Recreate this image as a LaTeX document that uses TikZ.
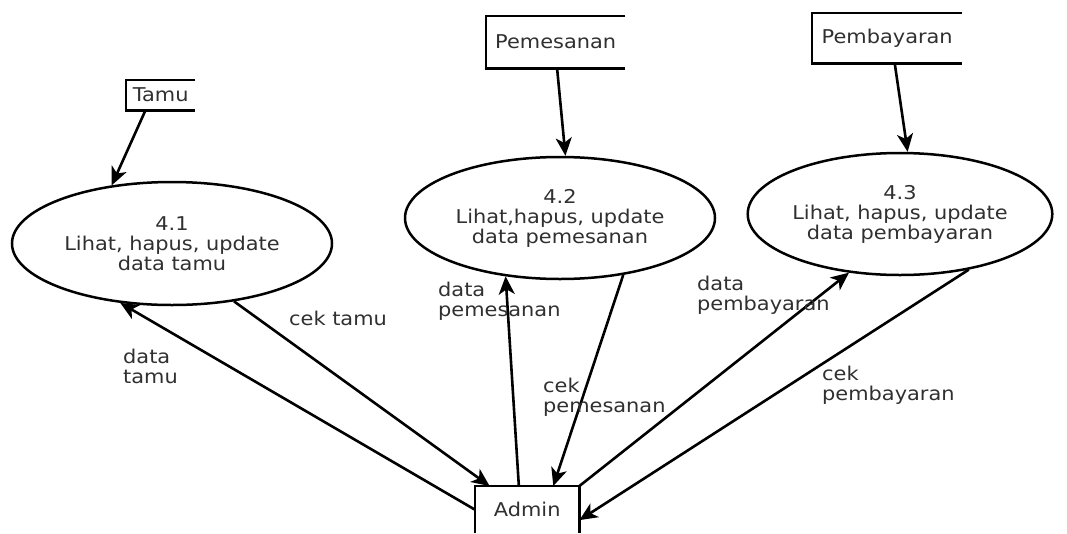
\documentclass[tikz,border=0pt]{standalone}
\usepackage{fontspec}
\setmainfont{DejaVu Sans}[FakeStretch=1.1]
\usetikzlibrary{arrows.meta,calc,shapes.geometric}
\definecolor{txt}{HTML}{303030}
\tikzset{
  every node/.style={font=\fontsize{19}{20}\selectfont, text=txt},
  proc/.style={ellipse, draw=black, line width=2.5pt, inner sep=0pt, align=center},
  store/.style={rectangle, inner sep=0pt, anchor=north west},
  flow/.style={line width=2.6pt, draw=black, -{Stealth[length=18pt,width=16pt,inset=5pt]}},
  lbl/.style={align=left, anchor=base west, inner sep=0pt},
}
\begin{document}
\begin{tikzpicture}[x=1pt,y=-1pt]
\useasboundingbox (0,0) rectangle (1067,533);
\fill[white] (0,0) rectangle (1067,533);

% data stores
\node[store, minimum width=69pt, minimum height=30pt] (tamu) at (126,80) {Tamu};
\node[store, minimum width=139pt, minimum height=52pt] (pemesanan) at (486,16) {Pemesanan};
\node[store, minimum width=150pt, minimum height=50pt] (pembayaran) at (812,13) {Pembayaran};
\foreach \s in {tamu,pemesanan,pembayaran}
  \draw[line width=2.5pt] (\s.north east) -- (\s.north west) -- (\s.south west) -- (\s.south east);

% processes
\node[proc, minimum width=320pt, minimum height=123pt] (p1) at (172,243.5) {4.1\\Lihat, hapus, update\\data tamu};
\node[proc, minimum width=310pt, minimum height=122pt] (p2) at (560,218) {4.2\\Lihat,hapus, update\\data pemesanan};
\node[proc, minimum width=290pt, minimum height=122pt] (p3) at (900,214) {4.3\\Lihat, hapus, update\\data pembayaran};

% admin
\node[rectangle, inner sep=0pt, anchor=north west, minimum width=104pt, minimum height=47pt] (admin) at (475,486) {Admin};
\draw[line width=2.5pt] (admin.south west) -- (admin.north west) -- (admin.north east) -- (admin.south east);

% flows from stores
\draw[flow] ($(tamu.south west)!0.28!(tamu.south east)$) -- (p1.136.7);
\draw[flow] ($(pemesanan.south west)!0.51!(pemesanan.south east)$) -- (p2.85.3);
\draw[flow] ($(pembayaran.south west)!0.55!(pembayaran.south east)$) -- (p3.83.6);

% flows with admin
\draw[flow] (admin.west) -- (p1.229.8);
\draw[flow] (p1.317.1) -- ($(admin.north west)!0.14!(admin.north east)$);
\draw[flow] ($(admin.north west)!0.42!(admin.north east)$) -- (p2.227);
\draw[flow] (p2.318.3) -- ($(admin.north west)!0.75!(admin.north east)$);
\draw[flow] (admin.north east) -- (p3.229.7);
\draw[flow] (p3.321.3) -- ($(admin.north east)!0.72!(admin.south east)$);

% labels (anchor = baseline of last line)
\node[lbl] (l1) at (123,383) {data\\tamu};
\node[lbl] (l2) at (289,325) {cek tamu};
\node[lbl] (l3) at (438,316) {data\\pemesanan};
\node[lbl] (l4) at (543,412) {cek\\pemesanan};
\node[lbl] (l5) at (697,310) {data\\pembayaran};
\node[lbl] (l6) at (822,400) {cek\\pembayaran};
\end{tikzpicture}
\end{document}
